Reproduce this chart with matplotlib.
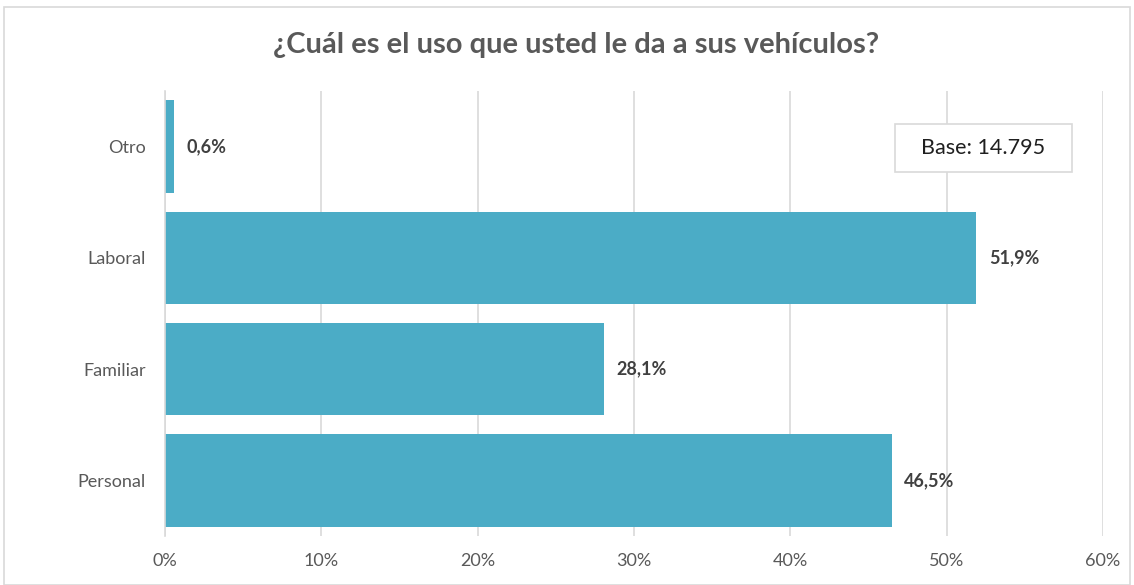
import matplotlib
matplotlib.use("Agg")
import matplotlib.pyplot as plt
from matplotlib.patches import Rectangle

categories = ["Personal", "Familiar", "Laboral", "Otro"]
values = [46.5, 28.1, 51.9, 0.6]
value_labels = ["46,5%", "28,1%", "51,9%", "0,6%"]
xticks = [0, 10, 20, 30, 40, 50, 60]
xtick_labels = ["0%", "10%", "20%", "30%", "40%", "50%", "60%"]
title = "¿Cuál es el uso que usted le da a sus vehículos?"
base_text = "Base: 14.795"

plt.rcParams['font.family'] = ['Lato', 'DejaVu Sans']

fig = plt.figure(figsize=(11.34, 5.85), dpi=100)
fig.patches.append(Rectangle((4/1134, 0), 1126/1134, 578/585, transform=fig.transFigure,
                             fill=False, edgecolor="#D9D9D9", linewidth=1.2))

ax = fig.add_axes([165/1134, 1 - 536/585, (1103 - 165)/1134, (536 - 91)/585])
ypos = range(len(categories))
ax.barh(ypos, values, height=0.83, color="#4BACC6", zorder=3)
for y, v, lab in zip(ypos, values, value_labels):
    ax.annotate(lab, (v, y), xytext=(9, 0), textcoords="offset points",
                va="center", ha="left", fontsize=13, fontweight="bold", color="#404040")

ax.set_xlim(0, 60)
ax.set_ylim(-0.5, 3.5)
ax.set_xticks(xticks)
ax.set_xticklabels(xtick_labels, fontsize=13, color="#595959")
ax.set_yticks(list(ypos))
ax.set_yticklabels(categories, fontsize=13, color="#595959")
ax.tick_params(axis="y", length=0, pad=14)
ax.tick_params(axis="x", length=0, pad=12)
ax.grid(axis="x", color="#D9D9D9", linewidth=1.2, zorder=0)
for s in ["top", "right", "bottom"]:
    ax.spines[s].set_visible(False)
ax.spines["left"].set_color("#D9D9D9")
ax.spines["left"].set_linewidth(1.2)
ax.spines["left"].set_zorder(4)

fig.text(576/1134, 1 - 45/585, title, ha="center", va="center",
         fontsize=21, fontweight="bold", color="#595959")

fig.patches.append(Rectangle((895/1134, 1 - 172/585), 177/1134, 48/585, transform=fig.transFigure,
                             facecolor="white", edgecolor="#D9D9D9", linewidth=1.2, zorder=5))
fig.text(983/1134, 1 - 148/585, base_text, ha="center", va="center",
         fontsize=15.5, color="#1F1F1F", zorder=6)

fig.savefig("out.png", dpi=100)
